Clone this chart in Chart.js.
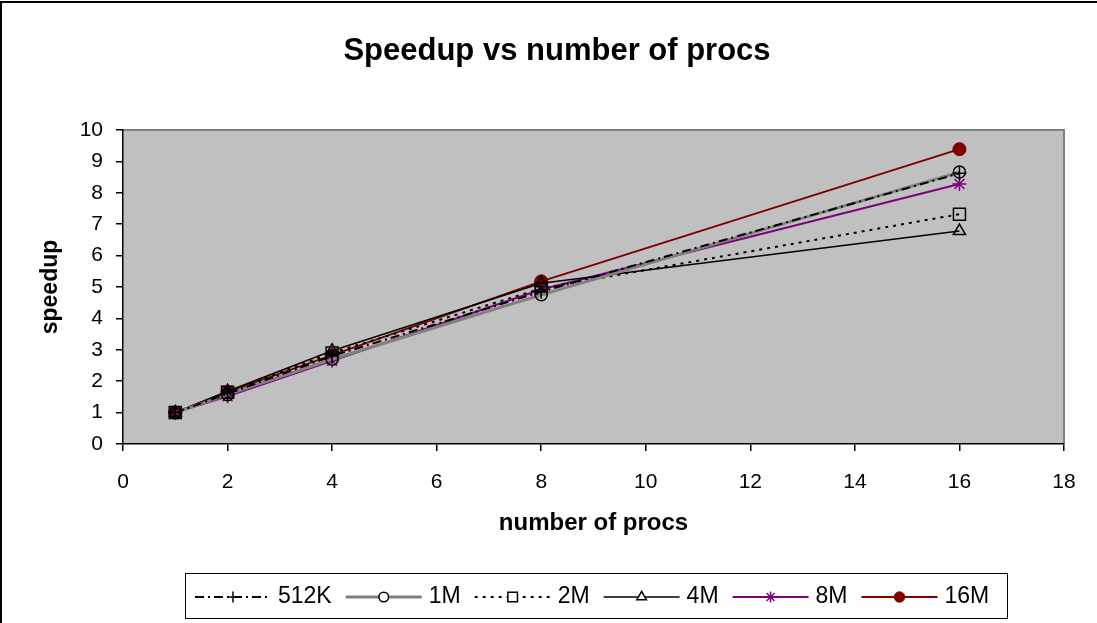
<!DOCTYPE html>
<html>
<head>
<meta charset="utf-8">
<script src="https://cdn.jsdelivr.net/npm/chart.js@4/dist/chart.umd.min.js"></script>
<style>
  body { margin: 0; background: #fff; }
  canvas { display: block; }
</style>
</head>
<body>
<canvas id="myChart" width="1097" height="623"></canvas>
<script>
const procs = [1, 2, 4, 8, 16];

const speedup512K = [1, 1.60, 2.80, 4.85, 8.62];
const speedup1M   = [1, 1.57, 2.70, 4.75, 8.66];
const speedup2M   = [1, 1.65, 2.90, 4.95, 7.32];
const speedup4M   = [1, 1.68, 2.97, 5.12, 6.78];
const speedup8M   = [1, 1.52, 2.65, 4.92, 8.28];
const speedup16M  = [1, 1.66, 2.83, 5.18, 9.39];

const seriesNames = ['512K', '1M', '2M', '4M', '8M', '16M'];

const FONT = "'Liberation Sans', Arial, sans-serif";

function points(values) {
    return procs.map((p, i) => ({ x: p, y: values[i] }));
}

const data = {
    datasets: [
        {
            label: seriesNames[0],
            data: points(speedup512K),
            borderColor: '#000000',
            borderWidth: 2,
            borderDash: [9, 4, 2, 4],
            pointStyle: 'cross',
            pointRadius: 7,
            pointBorderColor: '#000000',
            pointBorderWidth: 1.5
        },
        {
            label: seriesNames[1],
            data: points(speedup1M),
            borderColor: '#808080',
            borderWidth: 3,
            pointStyle: 'circle',
            pointRadius: 6,
            pointBorderColor: '#000000',
            pointBackgroundColor: 'rgba(0,0,0,0)',
            pointBorderWidth: 1.5
        },
        {
            label: seriesNames[2],
            data: points(speedup2M),
            borderColor: '#000000',
            borderWidth: 2,
            borderDash: [3, 5],
            pointStyle: 'rect',
            pointRadius: 8.5,
            pointBorderColor: '#000000',
            pointBackgroundColor: 'rgba(0,0,0,0)',
            pointBorderWidth: 1.5
        },
        {
            label: seriesNames[3],
            data: points(speedup4M),
            borderColor: '#000000',
            borderWidth: 1.5,
            pointStyle: 'triangle',
            pointRadius: 7,
            pointBorderColor: '#000000',
            pointBackgroundColor: 'rgba(0,0,0,0)',
            pointBorderWidth: 1.5
        },
        {
            label: seriesNames[4],
            data: points(speedup8M),
            borderColor: '#800080',
            borderWidth: 2,
            pointStyle: 'star',
            pointRadius: 7,
            pointBorderColor: '#800080',
            pointBorderWidth: 1.5
        },
        {
            label: seriesNames[5],
            data: points(speedup16M),
            borderColor: '#800000',
            borderWidth: 2,
            pointStyle: 'circle',
            pointRadius: 6.5,
            pointBorderColor: '#800000',
            pointBackgroundColor: '#800000',
            pointBorderWidth: 1
        }
    ]
};

// grey plot background with the darker frame on top and right
const plotBackground = {
    id: 'plotBackground',
    beforeDraw(chart) {
        const { ctx, chartArea: a } = chart;
        ctx.save();
        ctx.fillStyle = '#ffffff';
        ctx.fillRect(0, 0, chart.width, chart.height);
        // outer frame of the figure
        ctx.strokeStyle = '#000000';
        ctx.lineWidth = 2;
        ctx.beginPath();
        ctx.moveTo(1, chart.height);
        ctx.lineTo(1, 2);
        ctx.lineTo(chart.width, 2);
        ctx.stroke();

        ctx.fillStyle = '#c0c0c0';
        ctx.fillRect(a.left, a.top, a.right - a.left, a.bottom - a.top);
        ctx.strokeStyle = '#808080';
        ctx.lineWidth = 2;
        ctx.beginPath();
        ctx.moveTo(a.left, a.top);
        ctx.lineTo(a.right, a.top);
        ctx.lineTo(a.right, a.bottom);
        ctx.stroke();
        ctx.restore();
    }
};

// chart title
const titleText = {
    id: 'titleText',
    afterDraw(chart) {
        const { ctx } = chart;
        ctx.save();
        ctx.fillStyle = '#000000';
        ctx.font = 'bold 31px ' + FONT;
        ctx.textAlign = 'center';
        ctx.textBaseline = 'middle';
        ctx.fillText('Speedup vs number of procs', 557, 51);
        ctx.restore();
    }
};

// boxed legend with line samples and markers
const boxLegend = {
    id: 'boxLegend',
    afterDraw(chart) {
        const { ctx } = chart;
        const box = { left: 185, top: 573, right: 1007, bottom: 618 };
        const midY = 597;
        const lineLen = 76;
        ctx.save();
        ctx.fillStyle = '#ffffff';
        ctx.fillRect(box.left, box.top, box.right - box.left, box.bottom - box.top);
        ctx.strokeStyle = '#000000';
        ctx.lineWidth = 1;
        ctx.strokeRect(box.left + 0.5, box.top + 0.5, box.right - box.left, box.bottom - box.top);

        ctx.font = '23px ' + FONT;
        ctx.textBaseline = 'middle';
        let x = 195;
        chart.data.datasets.forEach(ds => {
            ctx.strokeStyle = ds.borderColor;
            ctx.lineWidth = ds.borderWidth;
            ctx.setLineDash(ds.borderDash || []);
            ctx.beginPath();
            ctx.moveTo(x, midY);
            ctx.lineTo(x + lineLen, midY);
            ctx.stroke();
            ctx.setLineDash([]);

            const cx = x + lineLen / 2;
            const fill = ds.pointBackgroundColor;
            ctx.fillStyle = (fill && fill !== 'rgba(0,0,0,0)') ? fill : '#ffffff';
            ctx.strokeStyle = ds.pointBorderColor;
            ctx.lineWidth = ds.pointBorderWidth;
            Chart.helpers.drawPoint(ctx, {
                pointStyle: ds.pointStyle,
                radius: ds.pointRadius * 0.8,
                rotation: 0,
                borderWidth: ds.pointBorderWidth
            }, cx, midY);

            ctx.fillStyle = '#000000';
            ctx.textAlign = 'left';
            const tx = x + lineLen + 7;
            ctx.fillText(ds.label, tx, midY);
            x = tx + ctx.measureText(ds.label).width + 14;
        });
        ctx.restore();
    }
};

const options = {
    responsive: false,
    animation: false,
    layout: {
        padding: { top: 130, right: 33, left: 0, bottom: 79 }
    },
    scales: {
        x: {
            type: 'linear',
            min: 0,
            max: 18,
            afterFit: s => { s.height = 100; },
            border: { display: true, color: '#000000', width: 1.5 },
            grid: {
                display: true,
                drawOnChartArea: false,
                drawTicks: true,
                tickLength: 7,
                tickColor: '#000000',
                lineWidth: 1.5
            },
            ticks: {
                stepSize: 2,
                color: '#000000',
                padding: 19,
                font: { family: FONT, size: 21 }
            },
            title: {
                display: true,
                text: 'number of procs',
                color: '#000000',
                padding: { top: 0, bottom: 6 },
                font: { family: FONT, size: 24, weight: 'bold' }
            }
        },
        y: {
            min: 0,
            max: 10,
            afterFit: s => { s.width = 123; },
            border: { display: true, color: '#000000', width: 1.5 },
            grid: {
                display: true,
                drawOnChartArea: false,
                drawTicks: true,
                tickLength: 7,
                tickColor: '#000000',
                lineWidth: 1.5
            },
            ticks: {
                stepSize: 1,
                color: '#000000',
                padding: 13,
                font: { family: FONT, size: 21 }
            },
            title: {
                display: true,
                text: 'speedup',
                color: '#000000',
                padding: { top: 37, bottom: 0 },
                font: { family: FONT, size: 23, weight: 'bold' }
            }
        }
    },
    plugins: {
        legend: { display: false },
        tooltip: { enabled: false }
    }
};

const canvas = document.getElementById('myChart');
const ctx = canvas.getContext('2d');

const myChart = new Chart(ctx, {
    type: 'line',
    data: data,
    options: options,
    plugins: [plotBackground, titleText, boxLegend]
});
</script>
</body>
</html>
